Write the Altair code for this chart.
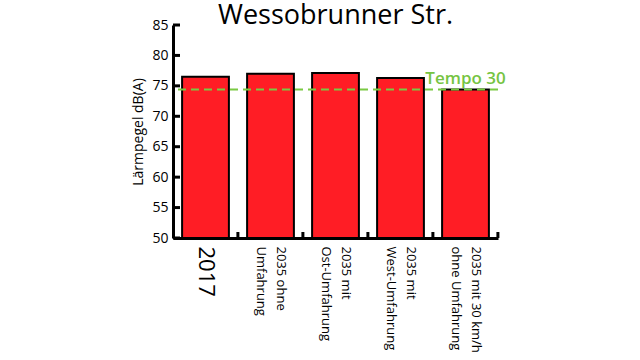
import altair as alt
import pandas as pd

categories = ["2017", "2035 ohne|Umfahrung", "2035 mit|Ost-Umfahrung",
              "2035 mit|West-Umfahrung", "2035 mit 30 km/h|ohne Umfahrung"]
values = [76.5, 77.0, 77.1, 76.3, 74.4]
threshold = 74.4
threshold_label = "Tempo 30"
y_ticks = [50, 55, 60, 65, 70, 75, 80, 85]
baseline = 50

FONT = "Open Sans"
W, H = 325, 213

df = pd.DataFrame({"cat": categories, "val": values, "base": [baseline] * len(values)})
ticks_df = pd.DataFrame({"t": y_ticks})

xscale = alt.Scale(domain=categories, paddingInner=0.28, paddingOuter=0.14)
yscale = alt.Scale(domain=[y_ticks[0], y_ticks[-1]], zero=False, nice=False)

x_axis = alt.Axis(
    title=None, ticks=False, tickSize=0, labelAngle=90, labelAlign="left",
    labelBaseline="middle", labelPadding=8, labelColor="black",
    labelFont=FONT, labelFontSize=alt.expr("datum.value == '2017' ? 22 : 13"),
    labelOffset=alt.expr("datum.value == '2017' ? 0 : 10"),
    labelLineHeight=20, labelExpr="split(datum.label, '|')",
    domainColor="black", domainWidth=3, labelLimit=200, labelOverlap=False,
)
y_axis = alt.Axis(
    title="Lärmpegel dB(A)", values=y_ticks, ticks=False, tickSize=0, grid=False,
    labelPadding=5, labelColor="black", labelFont=FONT, labelFontSize=14,
    labelOverlap=False,
    titleFont=FONT, titleFontSize=14, titleFontWeight="normal", titleColor="black",
    titlePadding=6, domainColor="black", domainWidth=3,
)

X = lambda f, **kw: alt.X(f, scale=xscale, axis=x_axis, sort=categories, **kw)
Y = lambda f: alt.Y(f, scale=yscale, axis=y_axis)

bars = alt.Chart(df).mark_bar(color="#ff1d25", stroke="black", strokeWidth=2).encode(
    x=X("cat:N"),
    y=Y("val:Q"),
    y2="base:Q",
)

xticks = alt.Chart(df).mark_rule(color="black", strokeWidth=3, xOffset=9).encode(
    x=X("cat:N", bandPosition=1),
    y=alt.value(H - 6), y2=alt.value(H),
)

yticks = alt.Chart(ticks_df).mark_rule(color="black", strokeWidth=3).encode(
    y=Y("t:Q"),
    x=alt.value(0), x2=alt.value(7),
)

thr = alt.Chart(pd.DataFrame({"v": [threshold]})).mark_rule(
    color="#7ac943", strokeWidth=2, strokeDash=[8, 5]
).encode(y=Y("v:Q"))

thr_text = alt.Chart(pd.DataFrame({"v": [threshold], "cat": [categories[-1]], "t": [threshold_label]})).mark_text(
    color="#76c442", font=FONT, fontSize=17, fontWeight=600, align="center",
    baseline="alphabetic", dy=-6,
).encode(
    x=X("cat:N"),
    y=Y("v:Q"),
    text="t:N",
)

chart = alt.layer(bars, xticks, yticks, thr, thr_text).properties(
    width=W, height=H,
    title=alt.TitleParams("Wessobrunner Str.", font=FONT, fontSize=27, fontWeight="normal",
                          color="black", anchor="middle", baseline="alphabetic",
                          offset=0, dy=33),
    autosize=alt.AutoSizeParams(type="none"),
    padding={"left": 173, "top": 25, "right": 142, "bottom": 122},
).configure(background="white", view=alt.ViewConfig(stroke=None))

chart.save("out.html", embed_options={"renderer": "svg", "actions": False})
